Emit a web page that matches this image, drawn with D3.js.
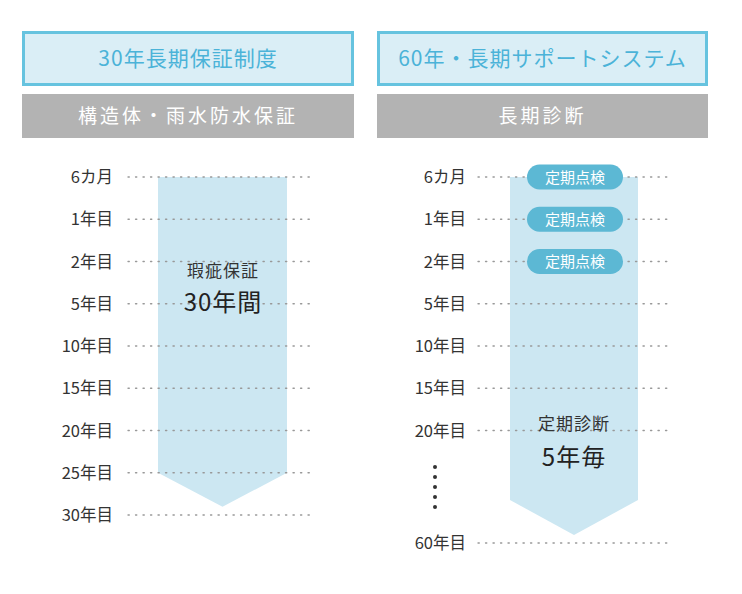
<!DOCTYPE html><html><head><meta charset="utf-8"><script src="https://d3js.org/d3.v7.min.js"></script>
<style>body{margin:0;background:#fff}</style></head><body><svg id="c" width="742" height="594"></svg>
<script>
const leftTitle="30年長期保証制度", leftSub="構造体・雨水防水保証";
const rightTitle="60年・長期サポートシステム", rightSub="長期診断";
const leftLabels=["6カ月","1年目","2年目","5年目","10年目","15年目","20年目","25年目","30年目"];
const rightLabels=["6カ月","1年目","2年目","5年目","10年目","15年目","20年目","60年目"];
const pills=["定期点検","定期点検","定期点検"];
const leftBand=["瑕疵保証","30年間"], rightBand=["定期診断","5年毎"];
const F="'Noto Sans CJK JP','Noto Sans',sans-serif";
const svg=d3.select("#c");
const y=d3.scaleLinear().domain([0,8]).range([177,515]);
function header(x0,x1,t,s){
  svg.append("rect").attr("x",x0+1.5).attr("y",32.5).attr("width",x1-x0-3).attr("height",52).attr("fill","#daeef6").attr("stroke","#66c3df").attr("stroke-width",3);
  svg.append("text").attr("x",(x0+x1)/2).attr("y",66).attr("text-anchor","middle").attr("font-family",F).attr("font-size",21).attr("fill","#4bb3d8").attr("letter-spacing",1).text(t);
  svg.append("rect").attr("x",x0).attr("y",94).attr("width",x1-x0).attr("height",44).attr("fill","#b3b3b3");
  svg.append("text").attr("x",(x0+x1)/2).attr("y",123).attr("text-anchor","middle").attr("font-family",F).attr("font-size",19).attr("fill","#fff").attr("letter-spacing",3).text(s);
}
header(22,354,leftTitle,leftSub);header(377,708,rightTitle,rightSub);
function arrow(x0,x1,yTop,yBot,tip){
  svg.append("path").attr("d",`M${x0},${yTop}H${x1}V${yBot}L${(x0+x1)/2},${tip}L${x0},${yBot}Z`).attr("fill","#cce7f2");
}
arrow(158,287,y(0),y(7),y(7)+34);
arrow(510,638,y(0),500,535);
function rows(labels,pos,lx,dx0,dx1){
  const g=svg.append("g");
  labels.forEach((l,i)=>{
    const yy=pos(i);
    g.append("line").attr("x1",dx0).attr("x2",dx1).attr("y1",yy).attr("y2",yy).attr("stroke","#999").attr("stroke-width",1.3).attr("stroke-dasharray","1.3,6.2").attr("stroke-linecap","round");
    g.append("text").attr("x",lx).attr("y",yy+6).attr("text-anchor","end").attr("font-family",F).attr("font-size",16.5).attr("fill","#333").text(l);
  });
}
rows(leftLabels,i=>y(i),113,128,312);
rows(rightLabels,i=>i<7?y(i):543,466,478,670);
[467,477,487,497,507].forEach(v=>svg.append("circle").attr("cx",435).attr("cy",v).attr("r",2).attr("fill","#333"));
pills.forEach((p,i)=>{
  const yy=y(i);
  svg.append("rect").attr("x",527).attr("y",yy-12.5).attr("width",96).attr("height",25).attr("rx",12.5).attr("fill","#5cb8d4");
  svg.append("text").attr("x",575).attr("y",yy+5.5).attr("text-anchor","middle").attr("font-family",F).attr("font-size",15).attr("fill","#fff").text(p);
});
function bandText(cx,t,y1,y2){
  svg.append("text").attr("x",cx).attr("y",y1).attr("text-anchor","middle").attr("font-family",F).attr("font-size",17).attr("fill","#333").attr("letter-spacing",1).text(t[0]);
  svg.append("text").attr("x",cx).attr("y",y2).attr("text-anchor","middle").attr("font-family",F).attr("font-size",24).attr("fill","#222").attr("letter-spacing",1).text(t[1]);
}
bandText(223,leftBand,277,311);
bandText(574,rightBand,430,466);
</script></body></html>
